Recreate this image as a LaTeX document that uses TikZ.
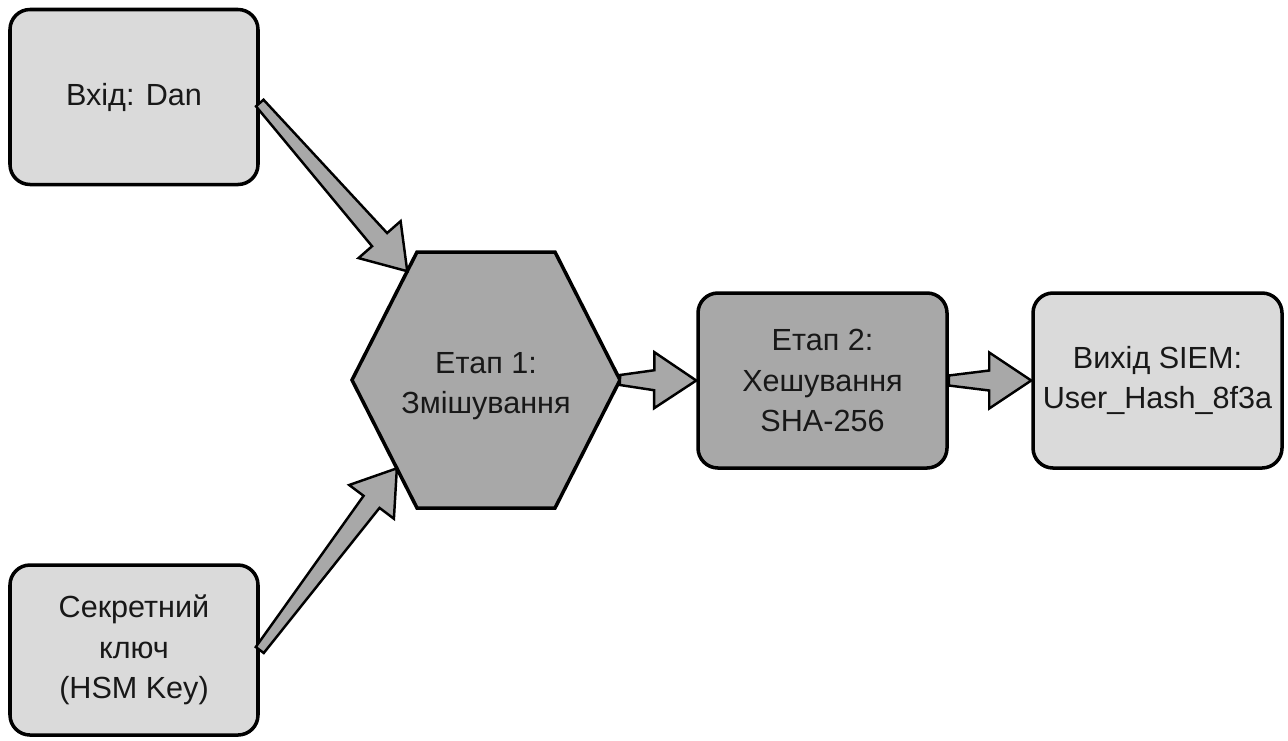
\documentclass[tikz,border=0pt]{standalone}
\usepackage{fontspec}
\setmainfont{Liberation Sans}
\usepackage{tikz}
\usetikzlibrary{calc}
\definecolor{boxLight}{RGB}{218, 218, 218}
\definecolor{boxDark}{RGB}{168, 168, 168}
\definecolor{inkGray}{RGB}{24, 24, 24}

% tapered block arrow from #1 to #2
\newcommand{\flowarrow}[2]{%
  \draw[flowarrow] ($(#1)!0.1cm!90:(#2)$)
    -- ($(#2)!0.84cm!(#1)!0.2cm!-90:(#1)$)
    -- ($(#2)!0.84cm!(#1)!0.56cm!-90:(#1)$)
    -- (#2)
    -- ($(#2)!0.84cm!(#1)!0.56cm!90:(#1)$)
    -- ($(#2)!0.84cm!(#1)!0.2cm!90:(#1)$)
    -- ($(#1)!0.1cm!-90:(#2)$) -- cycle;}

\begin{document}
\begin{tikzpicture}[
    box/.style={draw=black, line width=2pt, rounded corners=0.4cm,
      minimum width=4.96cm, minimum height=3.5cm, align=center,
      text=inkGray, font=\fontsize{17.4}{23}\selectfont},
    lightbox/.style={box, fill=boxLight},
    darkbox/.style={box, fill=boxDark},
    flowarrow/.style={draw=black, line width=1.4pt, fill=boxDark, line join=miter}
  ]
        \useasboundingbox (0,0) rectangle (25.76,-14.8);
        % Inputs
        \node[lightbox] (in) at (2.68,-1.94) {Вхід: Dan};
        \node[lightbox, minimum height=3.4cm] (key) at (2.68,-13.0) {Секретний\\ключ\\(HSM Key)};
        % Stage 1 hexagon
        \coordinate (hxW) at (7.04,-7.6);
        \coordinate (hxNW) at (8.34,-5.04);
        \coordinate (hxNE) at (11.1,-5.04);
        \coordinate (hxE) at (12.4,-7.6);
        \coordinate (hxSE) at (11.1,-10.16);
        \coordinate (hxSW) at (8.34,-10.16);
        \draw[line width=2pt, fill=boxDark, line join=miter]
          (hxW) -- (hxNW) -- (hxNE) -- (hxE) -- (hxSE) -- (hxSW) -- cycle;
        \node[align=center, text=inkGray, font=\fontsize{17.4}{23}\selectfont] (mix) at (9.72,-7.72) {Етап 1:\\Змішування};
        % Stage 2 and output
        \node[darkbox, minimum width=4.98cm] (hash) at (16.45,-7.61) {Етап 2:\\Хешування\\SHA-256};
        \node[lightbox, minimum width=4.98cm] (out) at (23.15,-7.61) {Вихід SIEM:\\User\_Hash\_8f3a};
        % Arrow ends
        \coordinate (inTail) at ($(in.east)+(0,-0.12)$);
        \coordinate (mixTop) at ($(hxW)!0.85!(hxNW)$);
        \coordinate (mixBot) at ($(hxW)!0.69!(hxSW)$);
        % Arrows
        \flowarrow{inTail}{mixTop}
        \flowarrow{key.east}{mixBot}
        \flowarrow{hxE}{hash.west}
        \flowarrow{hash.east}{out.west}
      \end{tikzpicture}
\end{document}
